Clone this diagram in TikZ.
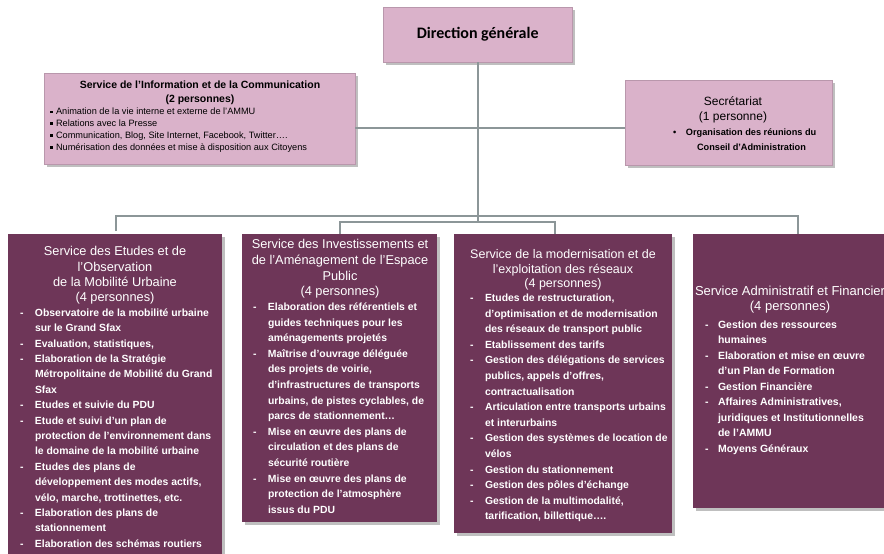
\documentclass[tikz,border=0pt]{standalone}
\usepackage{fontspec}
\setmainfont{Liberation Sans}
\newfontfamily\dgfont{Carlito}
\usetikzlibrary{shadows}
\definecolor{lightbox}{RGB}{218,178,202}
\definecolor{darkbox}{RGB}{110,54,88}
\definecolor{connc}{RGB}{140,150,152}
\newcommand\dsh{\makebox[15pt][l]{-}}
\newcommand\ind{\hspace*{15pt}}
\newcommand\dshb{\makebox[13pt][l]{-}}
\newcommand\indb{\hspace*{13pt}}
\newcommand\sqb{\makebox[6pt][l]{\rule[1.6pt]{2.6pt}{2.6pt}}}
\newcommand\fs[2]{\fontsize{#1}{#2}\selectfont}
\begin{document}
\begin{tikzpicture}[x=1pt,y=-1pt,
  shad/.style={drop shadow={shadow xshift=2.5pt, shadow yshift=-2.5pt, fill=black!55, opacity=0.45}},
  lbox/.style={shad, draw=lightbox!85!black, line width=0.4pt, fill=lightbox, anchor=north west, inner sep=0pt},
  dbox/.style={shad, fill=darkbox, anchor=north west, inner sep=0pt},
  conn/.style={draw=connc, line width=2.3pt},
  txt/.style={inner sep=0pt, outer sep=0pt},
  wtxt/.style={txt, text=white}
]
\clip (0,0) rectangle (884,554);
\fill[white] (0,0) rectangle (884,554);

% coordinates for connectors
\coordinate (hl) at (0,128);
\coordinate (bus) at (0,216);
\coordinate (bus2) at (0,222);
\coordinate (d1) at (116,231);
\coordinate (d3) at (555,234);
\coordinate (d4) at (798,234);

% boxes
\node[lbox, minimum width=189, minimum height=55, font=\dgfont\bfseries\fs{16}{18}] (dg) at (383,7) {Direction générale};
\node[lbox, minimum width=311, minimum height=91] (info) at (44,73) {};
\node[lbox, minimum width=207, minimum height=85] (sec) at (625,80) {};
\node[dbox, minimum width=214, minimum height=330] (b1) at (8,234) {};
\node[dbox, minimum width=195, minimum height=288] (b2) at (242,234) {};
\node[dbox, minimum width=218, minimum height=299] (b3) at (454,234) {};
\node[dbox, minimum width=205, minimum height=274] (b4) at (693,234) {};

% connectors
\draw[conn] (dg.south) -- (dg.south |- bus2);
\draw[conn] (info.east |- hl) -- (sec.west |- hl);
\draw[conn] (d1) -- (d1 |- bus) -- (d4 |- bus) -- (d4);
\draw[conn] (b2.north) -- (b2.north |- bus2) -- (d3 |- bus2) -- (d3);

% info text
\node[txt, anchor=north, align=center, font=\bfseries\fs{10.5}{13.5}] (infoh) at (200,79.5)
  {\strut Service de l’Information et de la Communication\\(2 personnes)};
\node[txt, anchor=north west, align=left, font=\fs{9.2}{11.8}] (infot) at (50,106.5)
  {\strut\sqb Animation de la vie interne et externe de l’AMMU\\
   \sqb Relations avec la Presse\\
   \sqb Communication, Blog, Site Internet, Facebook, Twitter….\\
   \sqb Numérisation des données et mise à disposition aux Citoyens};

% secretariat text
\node[txt, anchor=north, align=center, font=\fs{12}{15}] (sech) at (733,94.5)
  {\strut Secrétariat\\(1 personne)};
\node[txt, anchor=north west, align=left, font=\bfseries\fs{9.2}{15}] (sect) at (673,124.8)
  {\strut\makebox[13pt][l]{•}Organisation des réunions du\\
   \hspace*{24pt}Conseil d’Administration};

% box 1
\node[wtxt, anchor=north, align=center, font=\fs{12.8}{15.3}] (b1h) at (115,245.1)
  {\strut Service des Etudes et de\\l’Observation\\de la Mobilité Urbaine\\(4 personnes)};
\node[wtxt, anchor=north west, align=left, font=\bfseries\fs{10.4}{15.4}] (b1t) at (20,305.6)
  {\strut\dsh Observatoire de la mobilité urbaine\\
   \ind sur le Grand Sfax\\
   \dsh Evaluation, statistiques,\\
   \dsh Elaboration de la Stratégie\\
   \ind Métropolitaine de Mobilité du Grand\\
   \ind Sfax\\
   \dsh Etudes et suivie du PDU\\
   \dsh Etude et suivi d’un plan de\\
   \ind protection de l’environnement dans\\
   \ind le domaine de la mobilité urbaine\\
   \dsh Etudes des plans de\\
   \ind développement des modes actifs,\\
   \ind vélo, marche, trottinettes, etc.\\
   \dsh Elaboration des plans de\\
   \ind stationnement\\
   \dsh Elaboration des schémas routiers};

% box 2
\node[wtxt, anchor=north, align=center, font=\fs{12.8}{15.6}] (b2h) at (340,237.9)
  {\strut Service des Investissements et\\de l’Aménagement de l’Espace\\Public\\(4 personnes)};
\node[wtxt, anchor=north west, align=left, font=\bfseries\fs{10.4}{15.6}] (b2t) at (253,299.5)
  {\strut\dsh Elaboration des référentiels et\\
   \ind guides techniques pour les\\
   \ind aménagements projetés\\
   \dsh Maîtrise d’ouvrage déléguée\\
   \ind des projets de voirie,\\
   \ind d’infrastructures de transports\\
   \ind urbains, de pistes cyclables, de\\
   \ind parcs de stationnement…\\
   \dsh Mise en œuvre des plans de\\
   \ind circulation et des plans de\\
   \ind sécurité routière\\
   \dsh Mise en œuvre des plans de\\
   \ind protection de l’atmosphère\\
   \ind issus du PDU};

% box 3
\node[wtxt, anchor=north, align=center, font=\fs{12.5}{14.5}] (b3h) at (563,248.4)
  {\strut Service de la modernisation et de\\l’exploitation des réseaux\\(4 personnes)};
\node[wtxt, anchor=north west, align=left, font=\bfseries\fs{10.4}{15.6}] (b3t) at (470,290.5)
  {\strut\dsh Etudes de restructuration,\\
   \ind d’optimisation et de modernisation\\
   \ind des réseaux de transport public\\
   \dsh Etablissement des tarifs\\
   \dsh Gestion des délégations de services\\
   \ind publics, appels d’offres,\\
   \ind contractualisation\\
   \dsh Articulation entre transports urbains\\
   \ind et interurbains\\
   \dsh Gestion des systèmes de location de\\
   \ind vélos\\
   \dsh Gestion du stationnement\\
   \dsh Gestion des pôles d’échange\\
   \dsh Gestion de la multimodalité,\\
   \ind tarification, billettique….};

% box 4
\node[wtxt, anchor=north, align=center, font=\fs{13}{15}] (b4h) at (790,285.3)
  {\strut Service Administratif et Financier\\(4 personnes)};
\node[wtxt, anchor=north west, align=left, font=\bfseries\fs{10.5}{15.5}] (b4t) at (705,317.6)
  {\strut\dshb Gestion des ressources\\
   \indb humaines\\
   \dshb Elaboration et mise en œuvre\\
   \indb d’un Plan de Formation\\
   \dshb Gestion Financière\\
   \dshb Affaires Administratives,\\
   \indb juridiques et Institutionnelles\\
   \indb de l’AMMU\\
   \dshb Moyens Généraux};
\end{tikzpicture}
\end{document}
